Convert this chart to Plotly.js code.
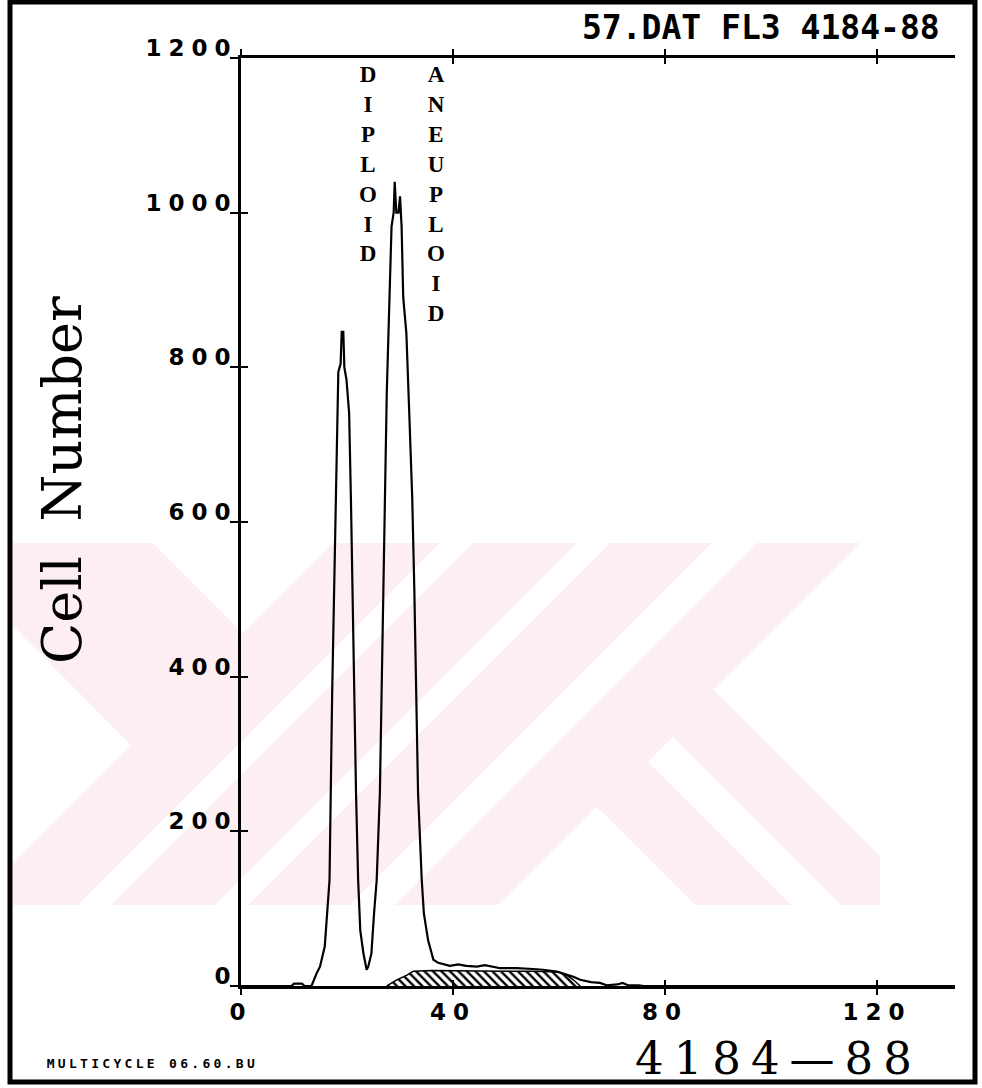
<!DOCTYPE html>
<html><head><meta charset="utf-8">
<script src="https://cdn.plot.ly/plotly-3.0.1.min.js"></script>
<style>
html,body{margin:0;padding:0;background:#fff;}
#chart{width:982px;height:1088px;}
#chart .xtick text, #chart .ytick text{letter-spacing:7px;}
#chart g.annotation[data-index="2"] text{letter-spacing:10px;}
#chart g.annotation[data-index="3"] text{letter-spacing:3.3px;}
</style></head><body><div id="chart"></div>
<script>
// DNA histogram (channel vs. cell number)
const channel = [0,9.5,10,11.5,12,13.3,14.3,14.9,15.8,16.2,16.7,17.2,17.7,18.2,18.36,18.8,19.0,19.3,19.5,19.9,20.4,20.75,21.2,21.3,21.7,22.1,22.5,23.1,23.7,24.0,24.6,25.1,25.6,26.2,26.75,27.2,27.5,28.0,28.4,28.8,29.0,29.3,29.7,30.0,30.3,30.6,30.9,31.2,31.7,32.3,32.7,33.4,34.1,34.5,35.3,36.3,37.2,38.5,39.4,41,42.5,44.5,46,48.9,52,55.1,57,59.6,62.7,64,66,67.7,69,71,72,73,75,76,134.7];
const cellCount = [0,0,3,3,0,0,17,25,51,94,137,379,551,693,794,805,846,846,800,784,741,625,431,379,250,137,72,42,21,25,42,94,137,250,451,612,767,887,982,1000,1040,1000,1000,1021,982,891,870,844,749,632,512,250,137,94,59,34,30,28,26,28,26,25,27,23,23,22,21,18.5,12,8,5,4,1,2,4,1,1,0,0];
// S-phase fit (hatched area)
const sPhaseChannel = [27.5,29.4,31.3,32.5,36,40,45,50,55,60,61.5,62.7,63.5,64];
const sPhaseCount = [0,8,14,19,20,20,19.5,19,19,18,14,8,3,0];
const xTickVals = [0,40,80,120];
const yTickVals = [0,200,400,600,800,1000,1200];
const peakLabels = [{name:'DIPLOID', x:24.0},{name:'ANEUPLOID', x:36.8}];

const W=982,H=1088,ML=241,MR=27,MT=58,MB=102;
const PW=W-ML-MR, PH=H-MT-MB;
const px = x => (x-ML)/PW;
const py = y => (H-MB-y)/PH;
function poly(pts){return 'M'+pts.map(p=>px(p[0]).toFixed(4)+','+py(p[1]).toFixed(4)).join(' L')+' Z';}
const pink='#fdeef1';
const wm = [
 [[12,543],[153,543],[243,633],[131,745],[12,625]],
 [[333,543],[440,543],[78,905],[12,905],[12,864]],
 [[473,543],[577,543],[215,905],[111,905]],
 [[610,543],[712,543],[350,905],[248,905]],
 [[757,543],[860,543],[498,905],[395,905]],
 [[713.5,689.5],[880,856],[880,905],[841,905],[673,737],[648,762],[791,905],[695,905],[596.5,806.5]]
];
const shapes = wm.map(p=>({type:'path',xref:'paper',yref:'paper',path:poly(p),fillcolor:pink,line:{width:0},layer:'below'}));
shapes.push({type:'rect',xref:'paper',yref:'paper',x0:px(10),x1:px(975),y0:py(1082),y1:py(2),line:{color:'#000',width:5},fillcolor:'rgba(0,0,0,0)',layer:'above'});

const traces = [
 {x:sPhaseChannel,y:sPhaseCount,mode:'lines',fill:'tozeroy',fillcolor:'rgba(255,255,255,0)',
  fillpattern:{shape:'\\',fgcolor:'#000',bgcolor:'rgba(255,255,255,0)',size:6,solidity:0.4},
  line:{color:'#000',width:1.5},hoverinfo:'skip'},
 {x:channel,y:cellCount,mode:'lines',line:{color:'#000',width:2.2},hoverinfo:'skip'},
 {x:[],y:[],xaxis:'x2',yaxis:'y',hoverinfo:'skip'},
 {x:[],y:[],xaxis:'x',yaxis:'y2',hoverinfo:'skip'}
];
const tickFont={family:'DejaVu Sans',size:23,color:'#000',weight:'bold'};
const annotations = [
 {text:'57.DAT FL3 4184-88',xref:'paper',yref:'paper',x:px(942),y:py(28),xanchor:'right',yanchor:'middle',showarrow:false,
  font:{family:'DejaVu Sans Mono',size:33,color:'#000',weight:'bold'}},
 {text:'Cell  Number',xref:'paper',yref:'paper',x:px(62),y:py(480),textangle:-90,xanchor:'center',yanchor:'middle',showarrow:false,
  font:{family:'DejaVu Serif',size:54,color:'#000'}},
 {text:'4184—88',xref:'paper',yref:'paper',x:px(778),y:py(1058),xanchor:'center',yanchor:'middle',showarrow:false,
  font:{family:'DejaVu Serif',size:45,color:'#000'}},
 {text:'MULTICYCLE 06.60.BU',xref:'paper',yref:'paper',x:px(152),y:py(1063),xanchor:'center',yanchor:'middle',showarrow:false,
  font:{family:'DejaVu Sans Mono',size:13,color:'#000',weight:'bold'}}
];
peakLabels.forEach(p=>annotations.push({text:p.name.split('').join('<br>'),xref:'x',yref:'paper',x:p.x,y:py(60),xanchor:'center',yanchor:'top',
  showarrow:false,align:'center',font:{family:'Liberation Serif',size:23,color:'#000',weight:'bold'}}));

const layout = {
 width:W,height:H,margin:{l:ML,r:MR,t:MT,b:MB},paper_bgcolor:'#fff',plot_bgcolor:'rgba(0,0,0,0)',showlegend:false,
 xaxis:{range:[0,134.7],tickvals:xTickVals,ticks:'outside',ticklen:6,tickwidth:2,tickcolor:'#000',showline:true,linewidth:3,linecolor:'#000',
   mirror:'ticks',showgrid:false,zeroline:false,tickfont:tickFont,ticklabelstandoff:-3},
 xaxis2:{overlaying:'x',anchor:'y',range:[0,134.7],tickvals:xTickVals,ticks:'inside',ticklen:6,tickwidth:2,tickcolor:'#000',
   showline:false,mirror:'ticks',showgrid:false,zeroline:false,showticklabels:false},
 yaxis:{range:[0,1200],tickvals:yTickVals,ticks:'outside',ticklen:8,tickwidth:2,tickcolor:'#000',showline:true,linewidth:3,linecolor:'#000',
   showgrid:false,zeroline:false,tickfont:tickFont,ticklabelshift:-10,ticklabelstandoff:-12},
 yaxis2:{overlaying:'y',anchor:'x',range:[0,1200],tickvals:yTickVals,ticks:'inside',ticklen:7,tickwidth:2,tickcolor:'#000',
   showline:false,showgrid:false,zeroline:false,showticklabels:false},
 shapes:shapes,annotations:annotations
};
Plotly.newPlot('chart',traces,layout,{staticPlot:true,displayModeBar:false});
</script></body></html>
